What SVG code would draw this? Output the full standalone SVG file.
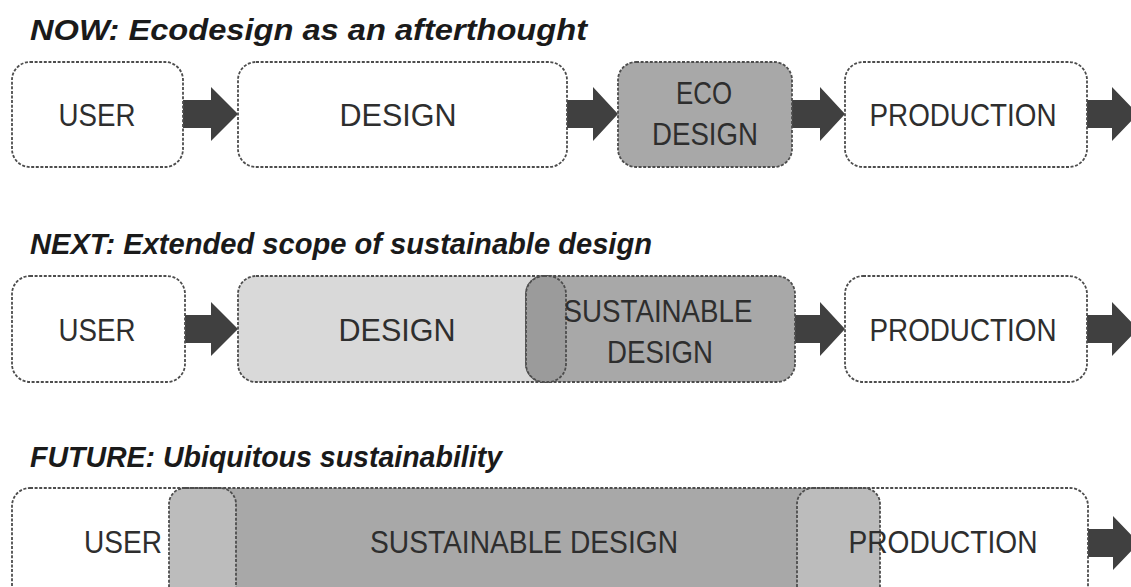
<svg xmlns="http://www.w3.org/2000/svg" width="1131" height="587" viewBox="0 0 1131 587">
<style>
.box{stroke:#4d4d4d;stroke-width:1.8;stroke-dasharray:3 1.6}
.w{fill:#fff}
.dg{fill:#a8a8a8}
.lg{fill:#d9d9d9}
.pg{fill:#9b9b9b}
.mg{fill:#bcbcbc}
.arr{fill:#404040}
.t{font-family:"Liberation Sans",Arial,sans-serif;font-style:italic;font-weight:bold;font-size:29px;fill:#1a1a1a}
.l{font-family:"Liberation Sans",Arial,sans-serif;font-size:31px;fill:#2e2e2e;text-anchor:middle}
</style>
<rect width="1131" height="587" fill="#fff"/>
<text class="t" x="30" y="40" textLength="557" lengthAdjust="spacingAndGlyphs">NOW: Ecodesign as an afterthought</text>
<text class="t" x="30" y="254" textLength="622" lengthAdjust="spacingAndGlyphs">NEXT: Extended scope of sustainable design</text>
<text class="t" x="30" y="467" textLength="472" lengthAdjust="spacingAndGlyphs">FUTURE: Ubiquitous sustainability</text>

<g id="connectors">
<polygon class="arr" points="183,100 211,100 211,87 238,114 211,141 211,128 183,128"/>
<polygon class="arr" points="567,100 593,100 593,87 618,114 593,141 593,128 567,128"/>
<polygon class="arr" points="792,100 820,100 820,87 845,114 820,141 820,128 792,128"/>
<polygon class="arr" points="1087,100 1112,100 1112,87 1138,114 1112,141 1112,128 1087,128"/>
<polygon class="arr" points="185,315 211,315 211,302 238,329 211,356 211,343 185,343"/>
<polygon class="arr" points="795,315 820,315 820,302 845,329 820,356 820,343 795,343"/>
<polygon class="arr" points="1087,315 1112,315 1112,302 1138,329 1112,356 1112,343 1087,343"/>
<polygon class="arr" points="1088,529 1113,529 1113,516 1139,543 1113,570 1113,557 1088,557"/>
</g>

<g id="now-user"><rect class="box w" x="12" y="62" width="171" height="105" rx="18"/><text class="l" x="97" y="126" textLength="77" lengthAdjust="spacingAndGlyphs">USER</text></g>
<g id="now-design"><rect class="box w" x="238" y="62" width="329" height="105" rx="18"/><text class="l" x="398" y="126" textLength="117" lengthAdjust="spacingAndGlyphs">DESIGN</text></g>
<g id="now-eco"><rect class="box dg" x="618" y="62" width="174" height="105" rx="18"/><text class="l" x="704" y="104" textLength="56" lengthAdjust="spacingAndGlyphs">ECO</text><text class="l" x="705" y="145" textLength="106" lengthAdjust="spacingAndGlyphs">DESIGN</text></g>
<g id="now-production"><rect class="box w" x="845" y="62" width="242" height="105" rx="18"/><text class="l" x="963" y="126" textLength="187" lengthAdjust="spacingAndGlyphs">PRODUCTION</text></g>

<g id="next-user"><rect class="box w" x="12" y="276" width="173" height="106" rx="18"/><text class="l" x="97" y="341" textLength="77" lengthAdjust="spacingAndGlyphs">USER</text></g>
<g id="next-design"><rect class="box lg" x="238" y="276" width="328" height="106" rx="18"/><text class="l" x="397" y="341" textLength="117" lengthAdjust="spacingAndGlyphs">DESIGN</text></g>
<g id="next-sustainable"><rect class="box dg" x="526" y="276" width="269" height="106" rx="18"/><rect class="box pg" x="526" y="276" width="40" height="106" rx="18"/><text class="l" x="658" y="322" textLength="189" lengthAdjust="spacingAndGlyphs">SUSTAINABLE</text><text class="l" x="660" y="363" textLength="106" lengthAdjust="spacingAndGlyphs">DESIGN</text></g>
<g id="next-production"><rect class="box w" x="845" y="276" width="242" height="106" rx="18"/><text class="l" x="963" y="341" textLength="187" lengthAdjust="spacingAndGlyphs">PRODUCTION</text></g>

<g id="future">
<rect class="w" x="12" y="488" width="1076" height="130" rx="18"/>
<rect class="dg" x="200" y="488" width="640" height="130"/>
<rect class="box mg" x="169" y="488" width="67" height="130" rx="16"/>
<rect class="box mg" x="797" y="488" width="83" height="130" rx="16"/>
<rect class="box" fill="none" x="12" y="488" width="1076" height="130" rx="18"/>
<text class="l" x="123" y="553" textLength="78" lengthAdjust="spacingAndGlyphs">USER</text>
<text class="l" x="524" y="553" textLength="308" lengthAdjust="spacingAndGlyphs">SUSTAINABLE DESIGN</text>
<text class="l" x="943" y="553" textLength="189" lengthAdjust="spacingAndGlyphs">PRODUCTION</text>
</g>
</svg>
